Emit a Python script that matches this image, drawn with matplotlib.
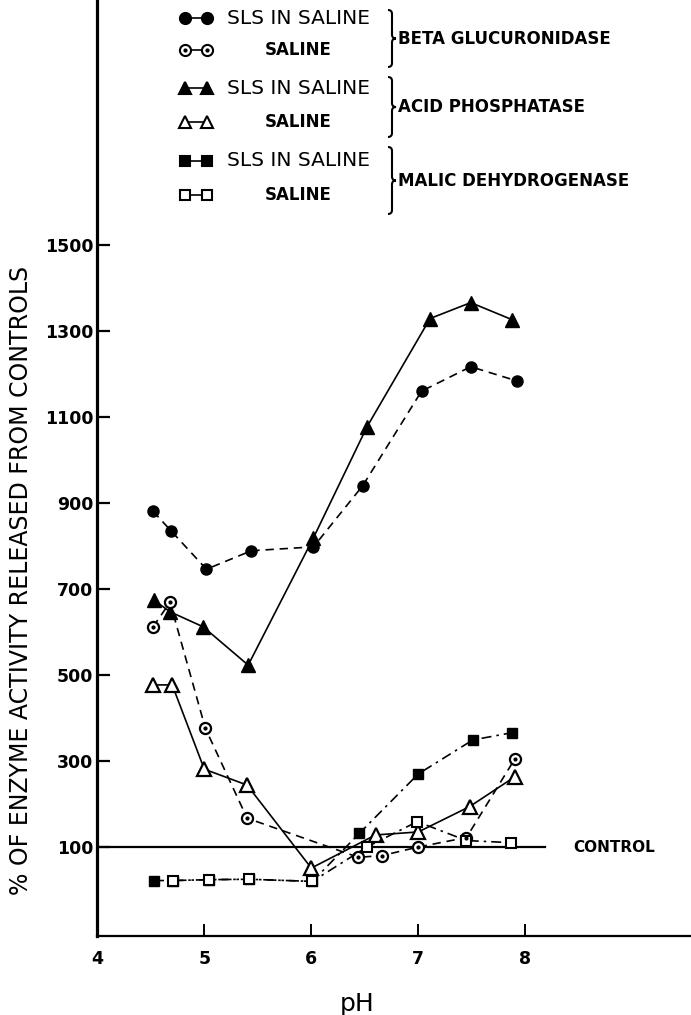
import matplotlib
matplotlib.use("Agg")
import matplotlib.pyplot as plt
from matplotlib.path import Path
from matplotlib.patches import PathPatch

# ---------------- data ----------------
beta_sls_ph = [4.52, 4.69, 5.02, 5.44, 6.02, 6.48, 7.03, 7.49, 7.92]
beta_sls = [881, 835, 746, 789, 798, 940, 1160, 1217, 1184]

beta_sal_ph = [4.52, 4.68, 5.01, 5.40, 6.44, 6.66, 7.00, 7.45, 7.90]
beta_sal = [612, 669, 376, 167, 76, 80, 100, 122, 304]

acid_sls_ph = [4.53, 4.68, 4.99, 5.41, 6.02, 6.52, 7.11, 7.49, 7.88]
acid_sls = [674, 647, 612, 523, 819, 1077, 1329, 1366, 1326]

acid_sal_ph = [4.52, 4.70, 5.00, 5.40, 6.00, 6.60, 7.00, 7.48, 7.90]
acid_sal = [477, 477, 281, 244, 51, 128, 135, 194, 263]

malic_sls_ph = [4.53, 4.71, 5.04, 5.42, 6.01, 6.45, 7.00, 7.51, 7.88]
malic_sls = [22, 22, 24, 25, 20, 132, 270, 349, 366]

malic_sal_ph = [4.71, 5.04, 5.42, 6.01, 6.52, 6.99, 7.45, 7.87]
malic_sal = [22, 24, 25, 20, 100, 159, 115, 110]

control_value = 100
yticks = [100, 300, 500, 700, 900, 1100, 1300, 1500]
xticks = [4, 5, 6, 7, 8]

W, H = 691, 1015
fig = plt.figure(figsize=(W / 100, H / 100), dpi=100)
plt.rcParams['font.family'] = ['DejaVu Sans']

ax_left = 97.3 / W
ax_bottom = 1 - 936 / H
ax = fig.add_axes([ax_left, ax_bottom, 1 - ax_left, 1 - ax_bottom])
ax.set_xlim(4, 4 + (W - 97.3) / 107)
ax.set_ylim(100 - (936 - 847) / 0.43, 100 + 847 / 0.43)

for s in ['top', 'right']:
    ax.spines[s].set_visible(False)
ax.spines['left'].set_linewidth(2.3)
ax.spines['bottom'].set_linewidth(1.6)

ax.set_yticks(yticks)
ax.set_yticklabels([str(v) for v in yticks], fontsize=12.5, fontweight='bold')
ax.set_xticks(xticks)
ax.set_xticklabels([str(v) for v in xticks], fontsize=12.5, fontweight='bold')
ax.tick_params(axis='y', direction='in', length=9, width=1.6, pad=3)
ax.tick_params(axis='x', direction='in', length=9, width=1.4, pad=10)

ax.set_ylabel("% OF ENZYME ACTIVITY RELEASED FROM CONTROLS", fontsize=17)
ax.yaxis.set_label_coords((33 - 97.3) / (W - 97.3), (936 - 580) / 936)
ax.set_xlabel("pH", fontsize=18)
ax.xaxis.set_label_coords((357 - 97.3) / (W - 97.3), -0.06)

# control line
ax.plot([4, 8.18], [control_value, control_value], color='black', lw=1.6, zorder=2)
ax.text(8.45, control_value, "CONTROL", fontsize=11, fontweight='bold', va='center', ha='left')

lw = 1.2
dash = (0, (5, 3.5))
dashdot = (0, (6, 3, 1.5, 3))

# beta glucuronidase
ax.plot(beta_sls_ph, beta_sls, color='black', lw=lw, ls=dash, marker='o', ms=8,
        mfc='black', mec='black', zorder=3)
ax.plot(beta_sal_ph, beta_sal, color='black', lw=lw, ls=dash, marker='o', ms=8,
        mfc='white', mec='black', mew=1.6, zorder=4)
ax.plot(beta_sal_ph, beta_sal, ls='none', marker='o', ms=2, mfc='black', mec='black', zorder=5)

# acid phosphatase
ax.plot(acid_sls_ph, acid_sls, color='black', lw=lw, ls='-', marker='^', ms=9.5,
        mfc='black', mec='black', zorder=3)
ax.plot(acid_sal_ph, acid_sal, color='black', lw=lw, ls='-', marker='^', ms=9.5,
        mfc='white', mec='black', mew=1.6, zorder=4)

# malic dehydrogenase
ax.plot(malic_sls_ph, malic_sls, color='black', lw=lw, ls=dashdot, marker='s', ms=7,
        mfc='black', mec='black', zorder=3)
ax.plot(malic_sal_ph, malic_sal, color='black', lw=lw, ls=dashdot, marker='s', ms=7,
        mfc='white', mec='black', mew=1.5, zorder=4)

# ---------------- legend (figure pixel coords) ----------------
def fx(x):
    return x / W

def fy(y):
    return 1 - y / H

rows = [
    dict(y=18, marker='o', mfc='black', dot=False, text="SLS IN SALINE", weight='normal'),
    dict(y=50, marker='o', mfc='white', dot=True, text="SALINE", weight='bold'),
    dict(y=88, marker='^', mfc='black', dot=False, text="SLS IN SALINE", weight='normal'),
    dict(y=122, marker='^', mfc='white', dot=False, text="SALINE", weight='bold'),
    dict(y=161, marker='s', mfc='black', dot=False, text="SLS IN SALINE", weight='normal'),
    dict(y=195, marker='s', mfc='white', dot=False, text="SALINE", weight='bold'),
]
for r in rows:
    ms = 8 if r['marker'] != 's' else 7
    ax.plot([fx(185), fx(207)], [fy(r['y']), fy(r['y'])], transform=fig.transFigure,
            clip_on=False, color='black', lw=lw, ls='-', marker=r['marker'], ms=ms,
            mfc=r['mfc'], mec='black', mew=1.5)
    if r['dot']:
        ax.plot([fx(185), fx(207)], [fy(r['y']), fy(r['y'])], transform=fig.transFigure,
                clip_on=False, ls='none', marker='o', ms=2, mfc='black', mec='black')
    if r['text'].startswith("SLS"):
        fig.text(fx(227), fy(r['y']), r['text'], fontsize=14.5, fontweight=r['weight'],
                 ha='left', va='center')
    else:
        fig.text(fx(298), fy(r['y']), r['text'], fontsize=12, fontweight=r['weight'],
                 ha='center', va='center')

groups = [
    (10, 67, "BETA GLUCURONIDASE"),
    (77, 137, "ACID PHOSPHATASE"),
    (147, 214, "MALIC DEHYDROGENASE"),
]


def brace(x, yt, yb, w=8):
    ym = (yt + yb) / 2
    h = w / 2
    pts = [(x, yt), (x + h, yt), (x + h, yt + h),
           (x + h, ym - h), (x + h, ym), (x + w, ym),
           (x + h, ym), (x + h, ym + h),
           (x + h, yb - h), (x + h, yb), (x, yb)]
    codes = [Path.MOVETO, Path.CURVE3, Path.CURVE3,
             Path.LINETO, Path.CURVE3, Path.CURVE3,
             Path.CURVE3, Path.CURVE3,
             Path.LINETO, Path.CURVE3, Path.CURVE3]
    verts = [(fx(px), fy(py)) for px, py in pts]
    patch = PathPatch(Path(verts, codes), transform=fig.transFigure, fill=False,
                      lw=1.5, edgecolor='black')
    fig.add_artist(patch)


for yt, yb, name in groups:
    brace(388, yt, yb)
    fig.text(fx(398), fy((yt + yb) / 2), name, fontsize=12, fontweight='bold',
             ha='left', va='center')

fig.savefig("out.png", dpi=100)
